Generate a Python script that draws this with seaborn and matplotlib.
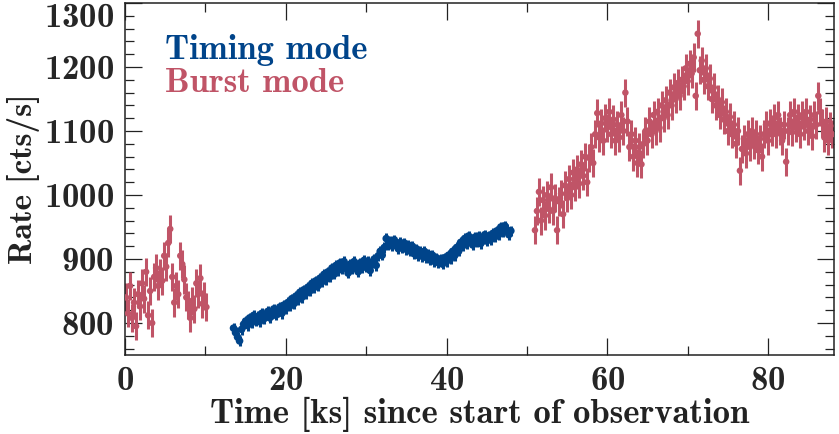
import numpy as np
import pandas as pd
import matplotlib
matplotlib.use("Agg")
import matplotlib.pyplot as plt
from matplotlib.ticker import MultipleLocator
import seaborn as sns

# binned light curve, 0.25 ks bins
BIN = 0.25

# burst mode, first segment (starts at 0.125 ks)
burst1_start = 0.125
burst1_rate = [840, 815, 858, 808, 832, 795, 845, 826, 862, 838, 880, 812,
               850, 800, 872, 886, 858, 878, 866, 905, 888, 925, 947, 872,
               832, 858, 845, 905, 892, 868, 840, 828, 808, 835, 822, 862,
               845, 870, 830, 842, 825]

# timing mode (starts at 13.5 ks)
timing_start = 13.5
timing_rate = [792, 785, 778, 772, 790, 798,
               803, 796, 808, 800, 812, 804, 810, 802, 815, 806, 812, 818,
               808, 815, 822, 812, 818, 825, 815, 828, 822, 832, 826, 838,
               830, 842, 836, 848, 840, 852, 846, 856, 850, 862, 855, 866,
               858, 870, 864, 876, 868, 880, 872, 886, 876, 890, 882, 894,
               884, 896, 888, 878, 892, 884, 896, 888, 880, 894, 886, 898,
               888, 896, 882, 894, 900, 890, 905, 912, 906, 918, 932, 922,
               928, 920, 930, 924, 916, 926, 918, 925, 915, 922, 912, 920,
               908, 916, 905, 912, 904, 912, 902, 908, 898, 906, 896, 902,
               894, 900, 892, 902, 896, 906, 900, 912, 905, 918, 912, 926,
               920, 932, 924, 936, 928, 922, 934, 926, 936, 924, 932, 938,
               928, 936, 930, 940, 934, 944, 938, 950, 942, 952, 946, 938,
               944]

# burst mode, second segment (starts at 51 ks)
burst2_start = 51.0
burst2_rate = [945, 975, 1005, 960, 992, 968, 1000, 978, 1012, 975, 995, 945,
               990, 1002, 970, 1015, 995, 1025, 1000, 1035, 1012, 1040, 1018, 1048,
               1030, 1060, 1020, 1058, 1075, 1050, 1095, 1128, 1090, 1112, 1085, 1120,
               1105, 1130, 1095, 1118, 1085, 1110, 1090, 1125, 1100, 1160, 1115, 1075,
               1095, 1060, 1085, 1050, 1075, 1048, 1080, 1100, 1085, 1115, 1095, 1125,
               1100, 1130, 1105, 1140, 1120, 1148, 1125, 1160, 1140, 1168, 1150, 1175,
               1155, 1180, 1170, 1198, 1178, 1205, 1190, 1215, 1155, 1252, 1195, 1210,
               1180, 1198, 1170, 1182, 1150, 1168, 1140, 1150, 1125, 1145, 1118, 1130,
               1100, 1122, 1095, 1110, 1080, 1100, 1038, 1072, 1088, 1065, 1095, 1075,
               1100, 1078, 1095, 1070, 1088, 1060, 1095, 1110, 1085, 1112, 1098, 1120,
               1095, 1125, 1100, 1085, 1110, 1052, 1100, 1125, 1098, 1130, 1105, 1120,
               1095, 1125, 1108, 1130, 1100, 1118, 1092, 1125, 1110, 1155, 1130, 1112,
               1090, 1115, 1085, 1108, 1095]

timing_err = 8
burst_err = 22

y_ticks = [800, 900, 1000, 1100, 1200, 1300]

timing_color = "#00448a"
burst_color = "#c05467"


def segment(start, rate, mode, err):
    t = start + BIN * np.arange(len(rate))
    return pd.DataFrame({"time": t, "rate": rate, "mode": mode, "err": err})


def main():
    df = pd.concat([
        segment(burst1_start, burst1_rate, "Burst mode", burst_err),
        segment(timing_start, timing_rate, "Timing mode", timing_err),
        segment(burst2_start, burst2_rate, "Burst mode", burst_err),
    ], ignore_index=True)

    sns.set_theme(style="ticks")
    plt.rcParams["font.family"] = ["cmb10", "DejaVu Serif"]
    plt.rcParams["axes.formatter.use_mathtext"] = True

    fig = plt.figure(figsize=(8.39, 4.34), dpi=100)
    ax = fig.add_axes([0.149, 0.182, 0.845, 0.811])

    palette = {"Timing mode": timing_color, "Burst mode": burst_color}
    sizes = {"Timing mode": 30, "Burst mode": 22}
    for mode, sub in df.groupby("mode"):
        ax.errorbar(sub["time"], sub["rate"], yerr=sub["err"], fmt="none",
                    ecolor=palette[mode], elinewidth=2.2, capsize=0, zorder=2)
    sns.scatterplot(data=df, x="time", y="rate", hue="mode", palette=palette,
                    size="mode", sizes=sizes, linewidth=0, legend=False,
                    ax=ax, zorder=3)

    ax.set_xlim(0, 88.2)
    ax.set_ylim(750, 1300)
    ax.xaxis.set_major_locator(MultipleLocator(20))
    ax.xaxis.set_minor_locator(MultipleLocator(10))
    ax.set_yticks(y_ticks)
    ax.yaxis.set_minor_locator(MultipleLocator(20))
    ax.tick_params(which="both", direction="in", top=True, right=True,
                   labelsize=25, width=0.9, color="#222222", pad=8)
    ax.tick_params(which="major", length=12)
    ax.tick_params(which="minor", length=6.5)
    for sp in ax.spines.values():
        sp.set_linewidth(1.1)
        sp.set_color("#222222")
    # top label sits just under the frame, as in the original
    ax.yaxis.get_major_ticks()[-1].label1.set_verticalalignment("top")

    ax.set_xlabel("Time [ks] since start of observation", fontsize=25,
                  color="#222222", labelpad=0)
    ax.set_ylabel("Rate [cts/s]", fontsize=24, color="#222222", labelpad=3)

    ax.text(0.056, 0.866, "Timing mode", transform=ax.transAxes, fontsize=25,
            color=timing_color, va="center", ha="left")
    ax.text(0.056, 0.772, "Burst mode", transform=ax.transAxes, fontsize=25,
            color=burst_color, va="center", ha="left")

    fig.savefig("out.png", dpi=100)


main()
